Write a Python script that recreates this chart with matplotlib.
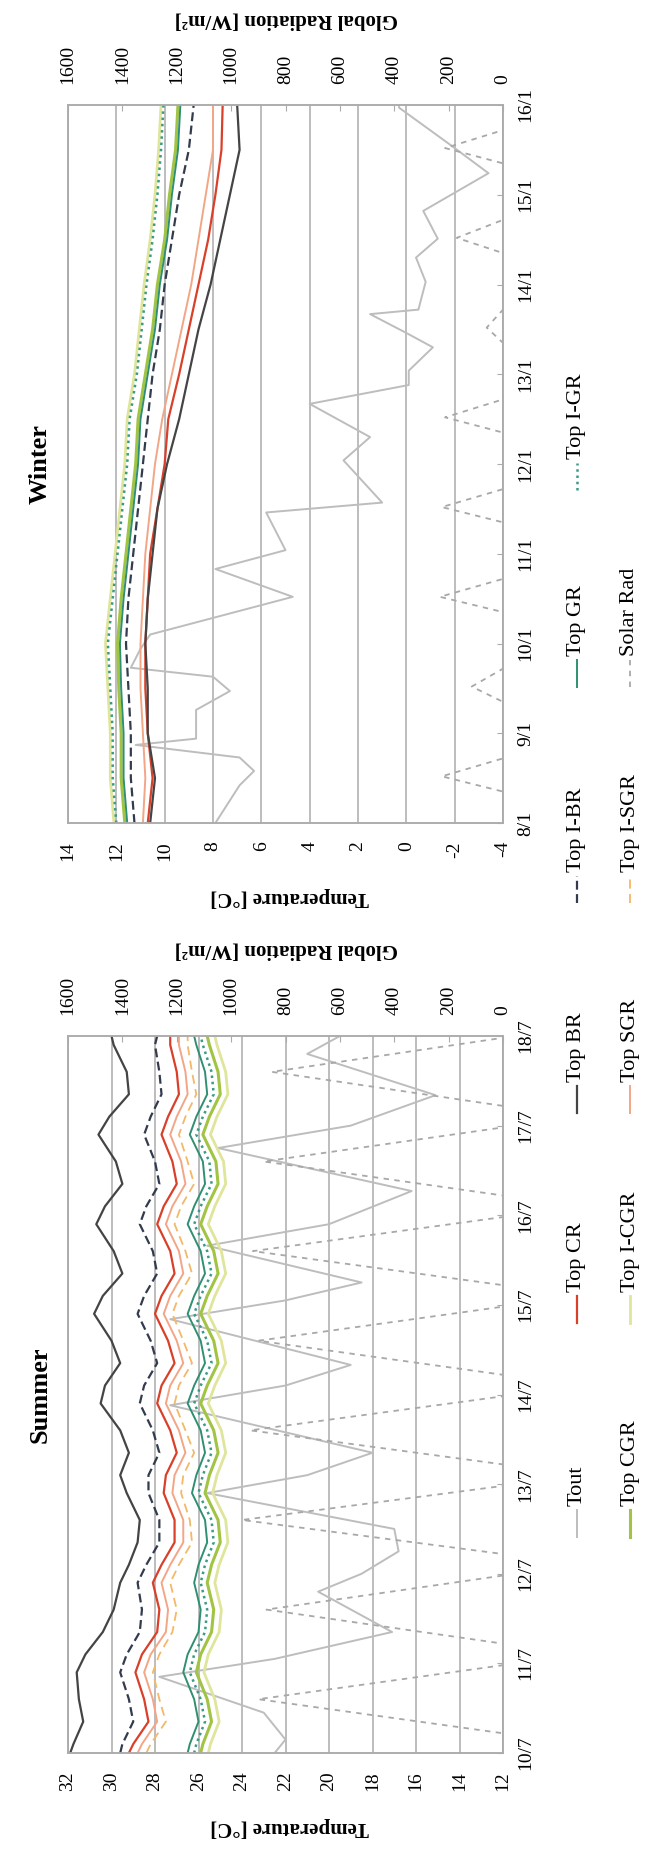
import matplotlib
matplotlib.use("Agg")
import matplotlib.pyplot as plt

plt.rcParams["font.family"] = ["Liberation Serif", "DejaVu Serif"]
plt.rcParams["axes.unicode_minus"] = False

W, H = 646, 1854

# ---------------- data ----------------
summer_dates = ["10/7", "11/7", "12/7", "13/7", "14/7", "15/7", "16/7", "17/7", "18/7"]
winter_dates = ["8/1", "9/1", "10/1", "11/1", "12/1", "13/1", "14/1", "15/1", "16/1"]

# summer surface temperatures, sampled at day start, then 4 times a day
t_sum = [0.0] + [n + f for n in range(8) for f in (0.1, 0.35, 0.6, 0.9)] + [8.0]
s_br = [31.9, 31.75, 31.3, 31.5, 31.6, 31.2, 30.4, 29.9, 29.6, 29.2, 28.8, 28.7, 29.3,
        29.6, 29.2, 29.6, 30.5, 30.3, 29.6, 30.0, 30.8, 30.4, 29.5, 29.9, 30.7,
        30.3, 29.5, 29.8, 30.6, 30.1, 29.2, 29.3, 29.9, 30.0]
s_ibr = [29.6, 29.5, 29.0, 29.2, 29.6, 29.3, 28.7, 28.6, 28.8, 28.4, 27.8, 27.8, 28.3,
         28.3, 27.8, 28.1, 28.7, 28.5, 27.9, 28.2, 28.8, 28.5, 27.9, 28.1, 28.7,
         28.4, 27.8, 28.0, 28.5, 28.2, 27.7, 27.8, 28.0, 27.9]
s_cr = [29.2, 29.0, 28.3, 28.5, 28.9, 28.6, 27.9, 27.8, 28.1, 27.7, 27.1, 27.1, 27.6,
        27.5, 27.0, 27.3, 27.9, 27.7, 27.1, 27.4, 28.0, 27.7, 27.1, 27.3, 27.9,
        27.6, 27.0, 27.2, 27.7, 27.4, 26.9, 27.0, 27.3, 27.3]
s_sgr = [28.8, 28.6, 27.9, 28.1, 28.5, 28.2, 27.5, 27.4, 27.7, 27.3, 26.7, 26.7, 27.2,
         27.1, 26.6, 26.9, 27.5, 27.3, 26.7, 27.0, 27.6, 27.3, 26.7, 26.9, 27.5,
         27.2, 26.6, 26.8, 27.3, 27.0, 26.5, 26.6, 26.9, 26.9]
s_isgr = [28.4, 28.2, 27.5, 27.8, 28.1, 27.8, 27.2, 27.0, 27.3, 26.9, 26.3, 26.4, 26.8,
          26.7, 26.2, 26.6, 27.1, 26.9, 26.3, 26.7, 27.2, 26.9, 26.3, 26.6, 27.1,
          26.8, 26.2, 26.5, 26.9, 26.6, 26.1, 26.3, 26.5, 26.5]
s_gr = [26.5, 26.4, 26.0, 26.2, 26.7, 26.5, 26.0, 25.9, 26.2, 26.0, 25.6, 25.7, 26.3,
        26.1, 25.7, 25.9, 26.5, 26.2, 25.7, 25.9, 26.5, 26.2, 25.7, 25.9, 26.5,
        26.2, 25.7, 25.8, 26.4, 26.1, 25.6, 25.7, 26.1, 26.2]
s_igr = [26.2, 26.1, 25.7, 25.9, 26.4, 26.2, 25.7, 25.6, 25.9, 25.7, 25.3, 25.4, 26.0,
         25.8, 25.4, 25.6, 26.2, 25.9, 25.4, 25.6, 26.2, 25.9, 25.4, 25.6, 26.2,
         25.9, 25.4, 25.5, 26.1, 25.8, 25.3, 25.4, 25.8, 25.9]
s_cgr = [25.9, 25.8, 25.4, 25.6, 26.1, 25.9, 25.4, 25.3, 25.6, 25.4, 25.0, 25.1, 25.7,
         25.5, 25.1, 25.3, 25.9, 25.6, 25.1, 25.3, 25.9, 25.6, 25.1, 25.3, 25.9,
         25.6, 25.1, 25.2, 25.8, 25.5, 25.0, 25.1, 25.5, 25.6]
s_icgr = [25.55, 25.45, 25.05, 25.25, 25.75, 25.55, 25.05, 24.95, 25.25, 25.05, 24.65,
          24.75, 25.35, 25.15, 24.75, 24.95, 25.55, 25.25, 24.75, 24.95, 25.55, 25.25,
          24.75, 24.95, 25.55, 25.25, 24.75, 24.85, 25.45, 25.15, 24.65, 24.75, 25.15, 25.25]

s_tout_t = [0.0, 0.15, 0.45, 0.85, 1.05, 1.35, 1.8, 2.0, 2.25, 2.5, 2.9, 3.1, 3.35,
            3.88, 4.1, 4.33, 4.84, 5.05, 5.25, 5.66, 5.9, 6.27, 6.75, 7.0, 7.34, 7.8, 8.0]
s_tout = [22.5, 22.0, 23.0, 27.8, 22.5, 17.1, 20.5, 18.5, 16.8, 17.0, 25.6, 21.0, 18.0,
          27.3, 22.0, 19.0, 27.3, 22.0, 18.5, 25.6, 20.0, 16.2, 25.1, 19.0, 15.1, 21.0, 19.5]
s_rad_peak = [900, 870, 960, 930, 900, 920, 880, 850]

# winter, sampled twice a day
t_win = [i * 0.5 for i in range(17)]
w_br = [10.6, 10.4, 10.7, 10.7, 10.8, 10.7, 10.5, 10.3, 9.9, 9.4, 9.0, 8.6, 8.1, 7.7, 7.3, 6.9, 7.0]
w_cr = [10.7, 10.5, 10.7, 10.8, 10.8, 10.7, 10.6, 10.3, 10.0, 9.85, 9.4, 9.0, 8.6, 8.2, 7.9, 7.65, 7.6]
w_sgr = [10.9, 10.8, 10.9, 11.0, 11.0, 10.9, 10.8, 10.6, 10.4, 10.1, 9.7, 9.3, 8.9, 8.6, 8.3, 8.0, 8.0]
w_ibr = [11.25, 11.4, 11.4, 11.5, 11.6, 11.5, 11.3, 11.1, 10.9, 10.7, 10.5, 10.2, 10.0, 9.7, 9.4, 9.0, 8.8]
w_cgr = [11.65, 11.8, 11.8, 11.9, 11.95, 11.8, 11.6, 11.4, 11.2, 11.1, 10.8, 10.5, 10.3, 10.0, 9.8, 9.55, 9.45]
w_gr = [11.55, 11.7, 11.7, 11.8, 11.85, 11.7, 11.5, 11.3, 11.1, 11.0, 10.7, 10.4, 10.2, 9.9, 9.7, 9.45, 9.35]
w_icgr = [12.1, 12.25, 12.25, 12.35, 12.45, 12.25, 12.05, 11.85, 11.65, 11.55, 11.25, 11.05, 10.85,
          10.6, 10.4, 10.25, 10.15]
w_igr = [12.0, 12.15, 12.15, 12.25, 12.35, 12.15, 11.95, 11.75, 11.55, 11.45, 11.15, 10.95, 10.75,
         10.5, 10.3, 10.15, 10.05]

w_tout_t = [0.0, 0.42, 0.58, 0.73, 0.87, 0.94, 1.26, 1.47, 1.63, 1.73, 1.94, 2.10, 2.52, 2.83,
            3.04, 3.46, 3.57, 4.04, 4.30, 4.67, 4.88, 5.04, 5.30, 5.46, 5.67, 5.72, 6.03, 6.30,
            6.51, 6.82, 7.24, 7.56, 7.97, 8.0]
w_tout = [7.9, 6.9, 6.3, 6.9, 11.2, 8.7, 8.7, 7.3, 8.0, 11.4, 11.0, 10.6, 4.7, 7.9, 5.0, 5.8,
          1.0, 2.6, 1.5, 4.0, -0.1, -0.1, -1.1, 0.0, 1.5, -0.5, -0.8, -0.4, -1.3, -0.7, -3.4,
          -1.8, 0.3, 0.3]
w_rad_peak = [225, 115, 232, 225, 213, 60, 170, 213]

# ---------------- styles ----------------
style = {
    "Tout": dict(color="#bdbdbd", lw=1.4, ls="-"),
    "Top CR": dict(color="#d9402a", lw=1.6, ls="-"),
    "Top BR": dict(color="#444444", lw=1.6, ls="-"),
    "Top I-BR": dict(color="#333c4e", lw=1.6, ls=(0, (4, 2))),
    "Top GR": dict(color="#2f8f72", lw=1.4, ls="-"),
    "Top I-GR": dict(color="#3a9a86", lw=1.8, ls=(0, (1, 1.5))),
    "Top CGR": dict(color="#a2c444", lw=2.2, ls="-"),
    "Top I-CGR": dict(color="#dfe59a", lw=2.0, ls="-"),
    "Top SGR": dict(color="#f2a686", lw=1.4, ls="-"),
    "Top I-SGR": dict(color="#f3b868", lw=1.3, ls=(0, (5, 3))),
    "Solar Rad": dict(color="#a8a8a8", lw=1.3, ls=(0, (3, 3))),
}
legend_rows = [["Tout", "Top CR", "Top BR", "Top I-BR", "Top GR", "Top I-GR"],
               ["Top CGR", "Top I-CGR", "Top SGR", "Top I-SGR", "Solar Rad"]]

GRID = "#ababab"
fig = plt.figure(figsize=(W / 100, H / 100), dpi=100)


def fx(px):
    return px / W


def fy(py):
    return 1 - py / H


def rad_profile(peaks, rise, noon, dusk):
    tt, vv = [0.0], [0.0]
    for n, p in enumerate(peaks):
        tt += [n + rise, n + noon, n + dusk]
        vv += [0, p, 0]
    tt.append(8.0)
    vv.append(0)
    return tt, vv


def panel(top, bottom, tlo, thi, dates, series, tout, rad, title):
    ax = fig.add_axes([fx(68), fy(bottom), fx(503) - fx(68), fy(top) - fy(bottom)])
    ax.set_xlim(thi, tlo)
    ax.set_ylim(0, 8)
    ax.set_xticks(range(tlo, thi + 1, 2))
    ax.tick_params(axis="x", length=0, pad=13, labelsize=14, labelrotation=90)
    ax.grid(axis="x", color=GRID, lw=1.1)
    ax.set_axisbelow(True)
    ax.yaxis.tick_right()
    ax.set_yticks(range(9))
    ax.set_yticklabels(dates)
    ax.tick_params(axis="y", direction="in", length=4, color=GRID, pad=10,
                   labelsize=14, labelrotation=90)
    for lab in ax.get_yticklabels():
        lab.set_va("center")

    ax.plot(tout[1], tout[0], **style["Tout"])
    for key, t, vals in series:
        ax.plot(vals, t, **style[key])

    ax2 = ax.twiny()
    ax2.set_xlim(1600, 0)
    ax2.set_xticks(range(0, 1601, 200))
    ax2.tick_params(axis="x", direction="in", length=4, color=GRID, pad=15,
                    labelsize=14, labelrotation=90)
    ax2.plot(rad[1], rad[0], **style["Solar Rad"])

    for a in (ax, ax2):
        for sp in a.spines.values():
            sp.set_color(GRID)
            sp.set_linewidth(1.1)

    mid = (top + bottom) / 2
    fig.text(fx(40), fy(mid), title, rotation=90, fontsize=19, fontweight="bold",
             ha="center", va="center")
    fig.text(fx(286), fy(top - 86), "Global Radiation [W/m\u00b2]", rotation=180,
             fontsize=15, fontweight="bold", ha="center", va="center")
    fig.text(fx(290), fy(bottom + 74), "Temperature [\u00b0C]", rotation=180,
             fontsize=15, fontweight="bold", ha="center", va="center")
    return ax


winter_series = [
    ("Top I-CGR", t_win, w_icgr), ("Top I-GR", t_win, w_igr),
    ("Top CGR", t_win, w_cgr), ("Top GR", t_win, w_gr),
    ("Top I-BR", t_win, w_ibr), ("Top SGR", t_win, w_sgr),
    ("Top CR", t_win, w_cr), ("Top BR", t_win, w_br),
]
summer_series = [
    ("Top I-CGR", t_sum, s_icgr), ("Top CGR", t_sum, s_cgr),
    ("Top I-GR", t_sum, s_igr), ("Top GR", t_sum, s_gr),
    ("Top I-SGR", t_sum, s_isgr), ("Top SGR", t_sum, s_sgr),
    ("Top CR", t_sum, s_cr), ("Top I-BR", t_sum, s_ibr),
    ("Top BR", t_sum, s_br),
]

panel(105, 823, -4, 14, winter_dates, winter_series, (w_tout_t, w_tout),
      rad_profile(w_rad_peak, 0.35, 0.52, 0.72), "Winter")
panel(1036, 1753, 12, 32, summer_dates, summer_series, (s_tout_t, s_tout),
      rad_profile(s_rad_peak, 0.22, 0.6, 0.98), "Summer")

# legend, drawn by hand because the whole figure is turned on its side
lg = fig.add_axes([0, 0, 1, 1])
lg.set_xlim(0, W)
lg.set_ylim(H, 0)
lg.axis("off")
row_x = [577, 630]
col_y = [1537, 1323, 1113, 903, 687, 490]
for r, names in enumerate(legend_rows):
    for c, name in enumerate(names):
        y0 = col_y[c]
        lg.plot([row_x[r], row_x[r]], [y0, y0 - 27], **style[name])
        lg.text(row_x[r], y0 - 31, name, rotation=90, rotation_mode="anchor",
                ha="left", va="center", fontsize=16)

fig.savefig("out.png", dpi=100)
